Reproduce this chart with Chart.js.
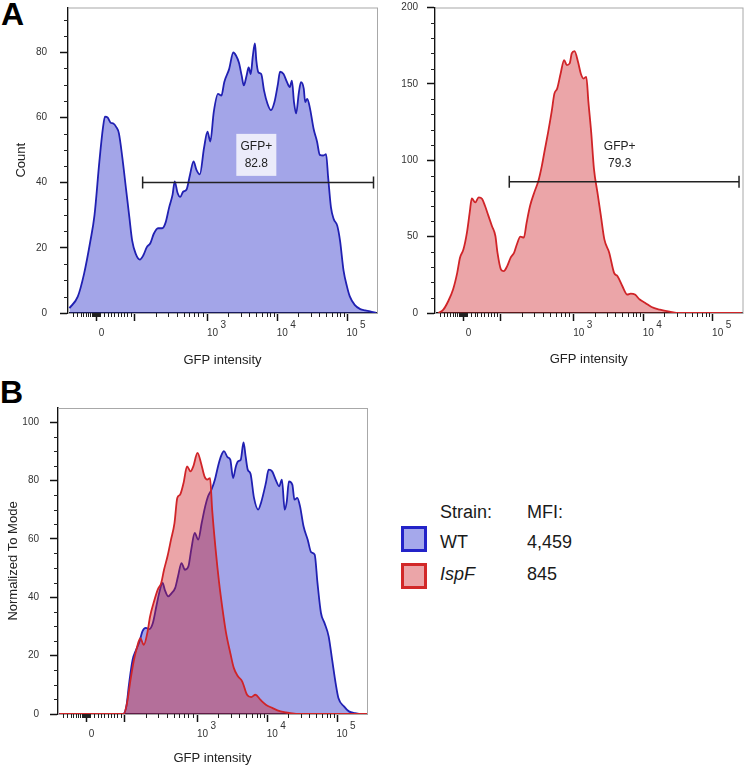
<!DOCTYPE html>
<html>
<head>
<meta charset="utf-8">
<script src="https://cdn.jsdelivr.net/npm/chart.js@4.4.1/dist/chart.umd.min.js"></script>
<style>
  body { margin: 0; background: #fff; font-family: "Liberation Sans", Arial, sans-serif; }
  #wrap { position: relative; width: 750px; height: 767px; overflow: hidden; }
  canvas { position: absolute; }
  .tag { position: absolute; font-weight: bold; font-size: 32px; line-height: 1; color: #000; }
  .lg { position: absolute; font-size: 18px; line-height: 1; color: #1a1a1a; white-space: nowrap; }
  .sw { position: absolute; width: 20px; height: 20px; border: 3px solid; }
</style>
</head>
<body>
<div id="wrap">
  <div class="tag" style="left:1px;top:-2px">A</div>
  <div class="tag" style="left:0px;top:376px">B</div>
  <canvas id="cWT" width="390" height="370" style="left:0;top:0"></canvas>
  <canvas id="cKO" width="370" height="370" style="left:380px;top:0"></canvas>
  <canvas id="cAll" width="380" height="397" style="left:0;top:370px"></canvas>

  <div class="lg" style="left:440px;top:503px">Strain:</div>
  <div class="lg" style="left:527px;top:503px">MFI:</div>
  <div class="sw" style="left:401px;top:526px;background:rgb(165,168,235);border-color:rgb(35,35,200)"></div>
  <div class="lg" style="left:440px;top:533px">WT</div>
  <div class="lg" style="left:527px;top:533px">4,459</div>
  <div class="sw" style="left:401px;top:563px;background:rgb(235,165,168);border-color:rgb(210,40,40)"></div>
  <div class="lg" style="left:440px;top:565px;font-style:italic">IspF</div>
  <div class="lg" style="left:527px;top:565px">845</div>
</div>
<script>
// x values are positions on the biexponential display axis: 10^3 = 3, 10^4 = 4, 10^5 = 5, 0 sits near 1.41
const X_MIN = 1.0, X_MAX = 5.43;
const majorX = [1.41, 1.95, 3, 4, 5];
const majorXLabels = ['0', '', '10', '10', '10'];
const majorXExp = ['', '', '3', '4', '5'];
const minorX = [1.07, 1.13, 1.18, 1.22, 1.26, 1.29, 1.32, 1.345, 1.36, 1.37, 1.38, 1.39, 1.40, 1.42, 1.43, 1.44, 1.45, 1.46,
  1.52, 1.57, 1.61, 1.66, 1.71, 1.76, 1.80, 1.85, 1.90,
  2.26, 2.43, 2.56, 2.66, 2.74, 2.81, 2.87, 2.93,
  3.30, 3.48, 3.60, 3.70, 3.78, 3.85, 3.90, 3.95,
  4.30, 4.48, 4.60, 4.70, 4.78, 4.85, 4.90, 4.95];

// panel A left: WT counts
const wtX = [1.02, 1.14, 1.23, 1.32, 1.38, 1.45, 1.50, 1.53, 1.57, 1.61,
  1.65, 1.69, 1.73, 1.78, 1.83, 1.88, 1.92, 1.97, 2.03, 2.08,
  2.13, 2.18, 2.23, 2.29, 2.35, 2.40, 2.45, 2.50, 2.53, 2.57,
  2.61, 2.65, 2.70, 2.75, 2.80, 2.84, 2.89, 2.95, 3.00, 3.04,
  3.09, 3.15, 3.20, 3.24, 3.31, 3.37, 3.41, 3.45, 3.49, 3.52,
  3.56, 3.59, 3.62, 3.65, 3.68, 3.70, 3.73, 3.77, 3.81, 3.86,
  3.91, 3.96, 4.01, 4.04, 4.09, 4.14, 4.18, 4.21, 4.24, 4.27,
  4.31, 4.34, 4.38, 4.40, 4.43, 4.47, 4.52, 4.57, 4.61, 4.66,
  4.70, 4.73, 4.77, 4.81, 4.86, 4.90, 4.95, 5.00, 5.04, 5.11,
  5.19, 5.26, 5.33, 5.42];
const wtCount = [1.5, 5, 12, 22, 30, 46.5, 56.6, 60.2, 59.9, 58.4,
  58.1, 57.1, 55.1, 47.5, 38.4, 29.3, 22.2, 18.2, 16.4, 17.7,
  20.2, 21.4, 24.3, 26, 26, 27.8, 32.4, 36.4, 40.4, 36.9,
  35.6, 37.2, 37.9, 42.5, 46.5, 44, 42.5, 50.6, 55.6, 52.6,
  61.7, 67.2, 66.7, 70.8, 74.8, 79.9, 78.9, 76.8, 72.8, 69.8,
  72.8, 75.3, 73.3, 78.9, 82.7, 77.4, 73.8, 73.3, 68.3, 64.2,
  62.2, 64.7, 70.3, 74, 73.3, 70.8, 69.3, 71.3, 64.7, 61.2,
  67.7, 70.8, 68.8, 64.7, 65.7, 62.7, 56.6, 52.6, 48.5, 48.3,
  48.7, 41.5, 32.4, 28.8, 26.8, 22.2, 13.1, 8.1, 5.1, 2.5,
  1.2, 0.8, 0.5, 0];

// panel A right: IspF counts
const koX = [1.05, 1.12, 1.19, 1.26, 1.32, 1.36, 1.41, 1.46, 1.50, 1.53,
  1.58, 1.63, 1.68, 1.72, 1.77, 1.82, 1.87, 1.90, 1.95, 1.99,
  2.04, 2.09, 2.14, 2.18, 2.23, 2.28, 2.32, 2.37, 2.43, 2.49,
  2.54, 2.58, 2.63, 2.68, 2.72, 2.76, 2.81, 2.86, 2.90, 2.94,
  2.97, 3.01, 3.06, 3.10, 3.14, 3.18, 3.21, 3.25, 3.29, 3.34,
  3.39, 3.44, 3.51, 3.58, 3.63, 3.70, 3.77, 3.82, 3.88, 3.95,
  4.03, 4.12, 4.24, 4.38, 4.52, 5.42];
const koCount = [0, 2.2, 7.7, 15.4, 26.3, 36.2, 41.7, 52.6, 65.8, 75,
  72.4, 75.7, 74.6, 70.2, 63.6, 57, 50.4, 39.5, 28.5, 27.4,
  30.7, 36.2, 39.5, 45, 50, 49.3, 59.2, 70.2, 78.9, 86.6,
  96.5, 106.4, 118.4, 131.6, 143.6, 146.9, 156.8, 165.6, 162.3, 163.4,
  170, 171.5, 164.5, 156.8, 153.5, 154.6, 138.2, 118.4, 94.3, 78.9,
  63.6, 48.2, 39.5, 26.3, 24.1, 17.5, 12.1, 12.7, 12.1, 8.8,
  6.6, 3.9, 2.2, 0.9, 0, 0];

// panel B: normalized to mode
const wtNormX = [1.02, 1.93, 1.98, 2.02, 2.07, 2.12, 2.17, 2.21, 2.26, 2.31,
  2.36, 2.41, 2.45, 2.50, 2.53, 2.58, 2.63, 2.68, 2.72, 2.77,
  2.82, 2.87, 2.91, 2.96, 3.01, 3.06, 3.11, 3.15, 3.20, 3.25,
  3.30, 3.34, 3.38, 3.43, 3.47, 3.51, 3.55, 3.58, 3.62, 3.66,
  3.69, 3.72, 3.76, 3.81, 3.87, 3.91, 3.98, 4.02, 4.07, 4.12,
  4.17, 4.21, 4.25, 4.28, 4.31, 4.36, 4.39, 4.43, 4.47, 4.52,
  4.58, 4.63, 4.68, 4.72, 4.77, 4.82, 4.88, 4.93, 4.98, 5.02,
  5.10, 5.17, 5.26, 5.36, 5.43];
const wtNorm = [0, 0, 2.6, 10.6, 18.6, 22, 24.9, 28.3, 29.5, 29.1,
  31.2, 36.9, 41.4, 44.9, 42.6, 40.3, 41.4, 43.2, 47.1, 51.7,
  49.4, 50.6, 56.3, 62, 59.7, 65.4, 71.1, 74.5, 76.8, 80.3,
  85.4, 88.5, 90, 88, 87.1, 80.8, 84.8, 86.5, 87.1, 93,
  88.2, 83.7, 82.3, 74, 70, 72.3, 79.1, 83.7, 83.1, 80.3,
  78, 80.3, 70, 72.8, 79.7, 78.5, 73.4, 74, 71.1, 64.3,
  59.7, 55.4, 54.6, 44.9, 34.6, 31.2, 26.6, 18.6, 10.6, 5.5,
  2.6, 0.9, 0.3, 0, 0];
const koNormX = [1.02, 1.94, 1.99, 2.04, 2.09, 2.13, 2.18, 2.23, 2.28, 2.32,
  2.37, 2.43, 2.48, 2.52, 2.57, 2.62, 2.67, 2.71, 2.75, 2.80,
  2.85, 2.90, 2.94, 3.00, 3.05, 3.10, 3.14, 3.18, 3.21, 3.26,
  3.31, 3.36, 3.41, 3.47, 3.52, 3.58, 3.64, 3.71, 3.77, 3.83,
  3.90, 3.98, 4.07, 4.19, 4.33, 4.48, 5.43];
const koNorm = [0, 0, 3.8, 11.8, 18.6, 22.6, 26, 23.7, 27.7, 33.4,
  38, 42.6, 44.9, 49.4, 54, 59.7, 65.4, 74, 75.1, 79.1,
  84.8, 83.1, 84.8, 89.4, 86, 81.4, 80.3, 80.8, 70, 56.3,
  44.9, 35.7, 27.7, 20.9, 15.8, 12.9, 11.2, 6.6, 5.8, 6.6,
  4.9, 3.2, 2.1, 0.9, 0.3, 0, 0];

// GFP+ gates: [start, end] on the display axis, height in counts
const gateWT = [2.07, 5.38], gateWTy = 40;
const gateKO = [2.07, 5.38], gateKOy = 86;
const gateWTLabel = ['GFP+', '82.8'];
const gateKOLabel = ['GFP+', '79.3'];

const BLUE = 'rgb(32,32,178)', BLUE_FILL = 'rgba(35,40,200,0.42)';
const RED = 'rgb(208,36,40)', RED_FILL = 'rgba(205,30,37,0.40)';

Chart.defaults.font.family = '"Liberation Sans", Arial, sans-serif';

const pts = (xs, ys) => xs.map((x, i) => ({ x, y: ys[i] }));

const frame = {
  id: 'frame',
  beforeDatasetsDraw(chart) {
    const a = chart.chartArea, ctx = chart.ctx;
    ctx.save();
    ctx.strokeStyle = '#a8a8a8';
    ctx.lineWidth = 1;
    ctx.strokeRect(a.left + 0.5, a.top + 0.5, a.right - a.left, a.bottom - a.top);
    ctx.restore();
  }
};

// short ticks between the labelled ones, plus the raised exponents of the 10^n labels
const minorTicks = {
  id: 'minorTicks',
  afterDraw(chart, args, o) {
    const { ctx, chartArea: a, scales: { x, y } } = chart;
    ctx.save();
    ctx.strokeStyle = '#222';
    ctx.lineWidth = 1;
    ctx.beginPath();
    (o.x || []).forEach((v) => {
      const px = Math.round(x.getPixelForValue(v)) + 0.5;
      ctx.moveTo(px, a.bottom); ctx.lineTo(px, a.bottom + 4);
    });
    (o.y || []).forEach((v) => {
      const py = Math.round(y.getPixelForValue(v)) + 0.5;
      ctx.moveTo(a.left, py); ctx.lineTo(a.left - 4, py);
    });
    ctx.stroke();
    ctx.fillStyle = '#333';
    ctx.font = '10px "Liberation Sans", Arial, sans-serif';
    ctx.textAlign = 'left';
    ctx.textBaseline = 'middle';
    majorX.forEach((v, i) => {
      if (!majorXExp[i]) return;
      ctx.fillText(majorXExp[i], x.getPixelForValue(v) + 13, a.bottom + 12);
    });
    ctx.restore();
  }
};

const gateText = {
  id: 'gateText',
  afterDatasetsDraw(chart, args, o) {
    if (!o.text) return;
    const { ctx, scales: { x, y } } = chart;
    const cx = x.getPixelForValue(o.x), cy = y.getPixelForValue(o.y);
    ctx.save();
    ctx.font = '12px "Liberation Sans", Arial, sans-serif';
    if (o.box) {
      ctx.fillStyle = 'rgba(255,255,255,0.78)';
      ctx.fillRect(cx - 20, cy - 21, 40, 42);
    }
    ctx.fillStyle = '#222';
    ctx.textAlign = 'center';
    ctx.textBaseline = 'middle';
    o.text.forEach((t, i) => ctx.fillText(t, cx, cy + (i - (o.text.length - 1) / 2) * 17));
    ctx.restore();
  }
};

function xScale(h, titlePad) {
  return {
    type: 'linear', min: X_MIN, max: X_MAX, z: 1,
    afterBuildTicks: (s) => { s.ticks = majorX.map((v) => ({ value: v })); },
    afterFit: (s) => { s.height = h; s.paddingLeft = 0; s.paddingRight = 0; },
    ticks: { autoSkip: false, maxRotation: 0, padding: 6, labelOffset: 5, color: '#333', font: { size: 10 },
      callback: (v, i) => majorXLabels[i] },
    grid: { drawOnChartArea: false, tickLength: 8, tickColor: '#111', tickWidth: 1.5 },
    border: { color: '#111', width: 1.5 },
    title: { display: true, text: 'GFP intensity', color: '#222', font: { size: 13 }, padding: { top: 0, bottom: titlePad } }
  };
}

function yScale(max, major, w, pad, title, titlePad) {
  return {
    type: 'linear', min: 0, max, z: 1,
    afterBuildTicks: (s) => { s.ticks = major.map((v) => ({ value: v })); },
    afterFit: (s) => { s.width = w; s.paddingTop = 0; s.paddingBottom = 0; },
    ticks: { padding: pad, color: '#333', font: { size: 10 } },
    grid: { drawOnChartArea: false, tickLength: 8, tickColor: '#111', tickWidth: 1.5 },
    border: { color: '#111', width: 1.5 },
    title: { display: !!title, text: title, color: '#222', font: { size: 13 }, padding: { top: titlePad, bottom: 0 } }
  };
}

function histo(data, line, fill) {
  return { type: 'line', data, borderColor: line, backgroundColor: fill, borderWidth: 1.8,
    fill: 'origin', pointRadius: 0, cubicInterpolationMode: 'monotone' };
}

function gate(range, yv) {
  return { type: 'line', data: [{ x: range[0], y: yv }, { x: range[1], y: yv }], borderColor: '#222',
    borderWidth: 1.5, fill: false, pointStyle: 'line', pointRadius: 6, pointRotation: 90,
    pointBorderColor: '#222', pointBorderWidth: 1.5 };
}

const base = { responsive: false, animation: false, devicePixelRatio: 1 };

new Chart(document.getElementById('cWT'), {
  type: 'line',
  data: { datasets: [gate(gateWT, gateWTy), histo(pts(wtX, wtCount), BLUE, BLUE_FILL)] },
  options: { ...base,
    layout: { padding: { top: 5, right: 13, left: 0, bottom: 0 } },
    scales: { x: xScale(57, 2), y: yScale(93.7, [0, 20, 40, 60, 80], 68, 13, 'Count', 14) },
    plugins: { legend: { display: false }, tooltip: { enabled: false },
      minorTicks: { x: minorX, y: [5, 10, 15, 25, 30, 35, 45, 50, 55, 65, 70, 75, 85, 90] },
      gateText: { text: gateWTLabel, x: 3.70, y: 48.5, box: true } }
  },
  plugins: [frame, minorTicks, gateText]
});

new Chart(document.getElementById('cKO'), {
  type: 'line',
  data: { datasets: [gate(gateKO, gateKOy), histo(pts(koX, koCount), RED, RED_FILL)] },
  options: { ...base,
    layout: { padding: { top: 7, right: 7, left: 0, bottom: 0 } },
    scales: { x: xScale(57, 3), y: yScale(200, [0, 50, 100, 150, 200], 55, 9, '', 0) },
    plugins: { legend: { display: false }, tooltip: { enabled: false },
      minorTicks: { x: minorX, y: [10, 20, 30, 40, 60, 70, 80, 90, 110, 120, 130, 140, 160, 170, 180, 190] },
      gateText: { text: gateKOLabel, x: 3.66, y: 103.5, box: false } }
  },
  plugins: [frame, minorTicks, gateText]
});

new Chart(document.getElementById('cAll'), {
  type: 'line',
  data: { datasets: [histo(pts(koNormX, koNorm), RED, RED_FILL), histo(pts(wtNormX, wtNorm), BLUE, BLUE_FILL)] },
  options: { ...base,
    layout: { padding: { top: 38, right: 13, left: 0, bottom: 0 } },
    scales: { x: xScale(53, 1), y: yScale(104.8, [0, 20, 40, 60, 80, 100], 58, 11, 'Normalized To Mode', 6) },
    plugins: { legend: { display: false }, tooltip: { enabled: false },
      minorTicks: { x: minorX, y: [5, 10, 15, 25, 30, 35, 45, 50, 55, 65, 70, 75, 85, 90, 95] } }
  },
  plugins: [frame, minorTicks]
});
</script>
</body>
</html>
